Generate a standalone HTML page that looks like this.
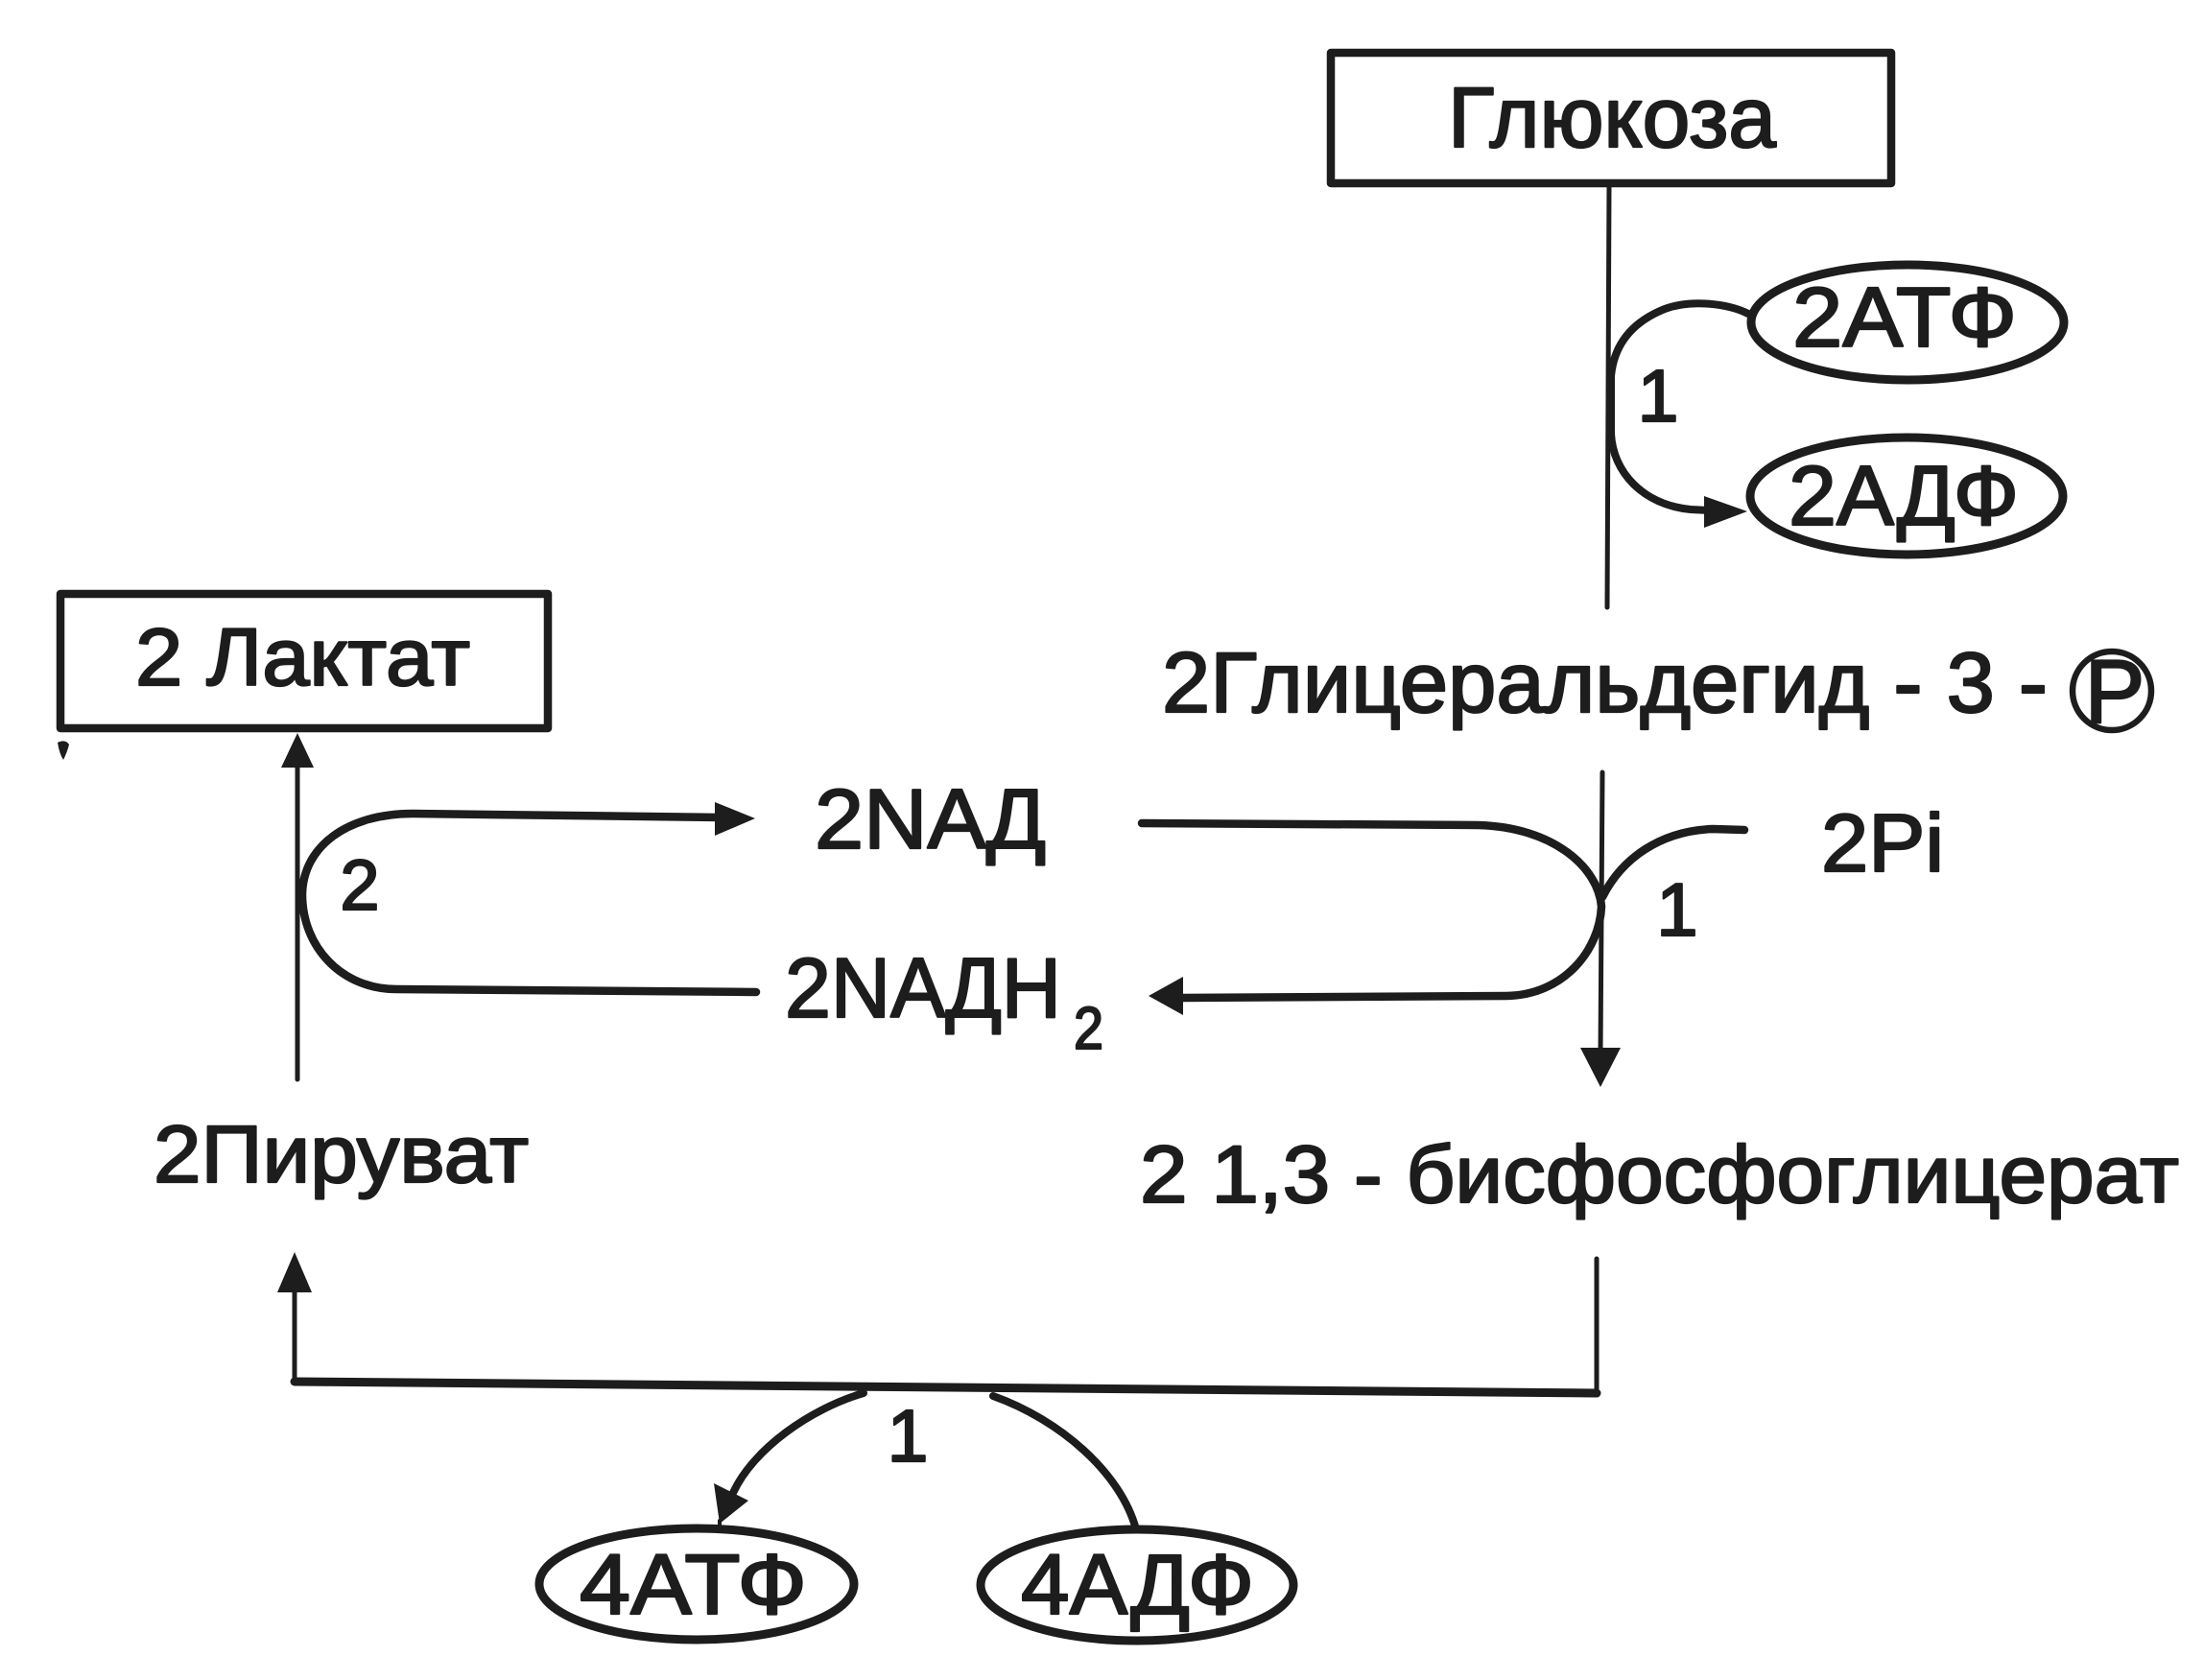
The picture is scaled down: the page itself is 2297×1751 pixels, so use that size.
<!DOCTYPE html>
<html><head><meta charset="utf-8"><style>
html,body{margin:0;padding:0;background:#fff;}
svg{display:block;}
text{font-family:"Liberation Sans","DejaVu Sans",sans-serif;fill:#1d1d1d;stroke:#1d1d1d;stroke-width:2.2;stroke-linejoin:round;}
</style></head><body>
<svg width="2297" height="1751" viewBox="0 0 2297 1751" xmlns="http://www.w3.org/2000/svg">
<rect width="2297" height="1751" fill="#fff"/>
<g fill="none" stroke="#1d1d1d" stroke-linecap="round" stroke-linejoin="round">
  <!-- Glucose box -->
  <rect x="1387" y="55" width="584" height="136" stroke-width="8.5"/>
  <!-- vertical from glucose -->
  <line x1="1677" y1="193" x2="1675" y2="633" stroke-width="5"/>
  <!-- ellipses top right -->
  <ellipse cx="1988" cy="336" rx="163" ry="60" stroke-width="9"/>
  <ellipse cx="1987" cy="517" rx="163" ry="61" stroke-width="9"/>
  <!-- loop 1 top -->
  <path d="M1822,327 C1800,316 1762,312 1735,322 C1700,336 1682,360 1679,392 L1679,452 C1681,492 1712,526 1762,531 L1782,532" stroke-width="8"/>
  <!-- Lactate box -->
  <rect x="63" y="619" width="508" height="140" stroke-width="8.5"/>
  <!-- vertical lactate line -->
  <line x1="310" y1="795" x2="310" y2="1125" stroke-width="5"/>
  <!-- lactate loop -->
  <path d="M752,852 L430,848 C362,848 316,882 315,932 C315,987 356,1031 413,1031 L788,1034" stroke-width="8.5"/>
  <!-- glyceraldehyde loop -->
  <path d="M1190,858 L1540,860 C1620,862 1666,905 1669,945 C1667,990 1630,1037 1570,1038 L1232,1040" stroke-width="8.5"/>
  <!-- 2Pi curve -->
  <path d="M1818,865 L1785,864 C1730,866 1690,895 1670,935" stroke-width="8.5"/>
  <!-- vertical arrow down -->
  <line x1="1670" y1="805" x2="1668" y2="1098" stroke-width="5"/>
  <!-- bottom connector -->
  <path d="M307,1440 L1664,1452" stroke-width="9"/>
  <line x1="307" y1="1340" x2="307" y2="1440" stroke-width="5"/>
  <line x1="1664" y1="1312" x2="1664" y2="1452" stroke-width="5"/>
  <!-- bottom curves -->
  <path d="M900,1452 C845,1468 785,1510 764,1556" stroke-width="8"/>
  <line x1="750" y1="1585" x2="750" y2="1592" stroke-width="4"/>
  <path d="M1035,1455 C1105,1480 1168,1535 1184,1594" stroke-width="8"/>
  <!-- bottom ellipses -->
  <ellipse cx="726" cy="1651" rx="164" ry="58" stroke-width="9"/>
  <ellipse cx="1185" cy="1652" rx="163" ry="58" stroke-width="9"/>
  <!-- P circle -->
  <circle cx="2201" cy="720" r="41" stroke-width="6.5"/>
</g>
<g fill="#1d1d1d" stroke="none">
  <!-- arrowheads -->
  <polygon points="1821,533 1776,517 1776,550"/>
  <polygon points="310,764 293,800 327,800"/>
  <polygon points="787,853 745,836 745,871"/>
  <polygon points="1197,1038 1233,1018 1233,1058"/>
  <polygon points="1668,1133 1647,1092 1689,1092"/>
  <polygon points="307,1305 289,1347 325,1347"/>
  <polygon points="750,1588 744,1546 780,1564"/>
  <!-- speck -->
  <path d="M60,774 Q68,770 72,776 Q70,784 66,792 Q62,786 60,774 Z"/>
</g>
<!-- texts -->
<text x="1509" y="153" font-size="89" textLength="342" lengthAdjust="spacingAndGlyphs">Глюкоза</text>
<text x="1868" y="361" font-size="88" textLength="234" lengthAdjust="spacingAndGlyphs">2АТФ</text>
<text x="1864" y="547" font-size="88" textLength="240" lengthAdjust="spacingAndGlyphs">2АДФ</text>
<text x="1728" y="439" font-size="77" text-anchor="middle">1</text>
<text x="141" y="714" font-size="84" textLength="349" lengthAdjust="spacingAndGlyphs">2 Лактат</text>
<text x="1211" y="742" font-size="89" textLength="923" lengthAdjust="spacingAndGlyphs">2Глицеральдегид - 3 -</text>
<text x="2204" y="753" font-size="94" text-anchor="middle">P</text>
<text x="849" y="884" font-size="88" textLength="241" lengthAdjust="spacingAndGlyphs">2NAД</text>
<text x="818" y="1060" font-size="88" textLength="288" lengthAdjust="spacingAndGlyphs">2NAДH</text>
<text x="1119" y="1093" font-size="62" textLength="31" lengthAdjust="spacingAndGlyphs">2</text>
<text x="1898" y="908" font-size="85" textLength="128" lengthAdjust="spacingAndGlyphs">2Pi</text>
<text x="1748" y="975" font-size="78" text-anchor="middle">1</text>
<text x="375" y="948" font-size="74" text-anchor="middle">2</text>
<text x="160" y="1232" font-size="84" textLength="391" lengthAdjust="spacingAndGlyphs">2Пируват</text>
<text x="1188" y="1253" font-size="84" textLength="1083" lengthAdjust="spacingAndGlyphs">2 1,3 - бисфосфоглицерат</text>
<text x="946" y="1523" font-size="77" text-anchor="middle">1</text>
<text x="604" y="1682" font-size="89" textLength="237" lengthAdjust="spacingAndGlyphs">4АТФ</text>
<text x="1064" y="1682" font-size="89" textLength="243" lengthAdjust="spacingAndGlyphs">4АДФ</text>
</svg>
</body></html>
